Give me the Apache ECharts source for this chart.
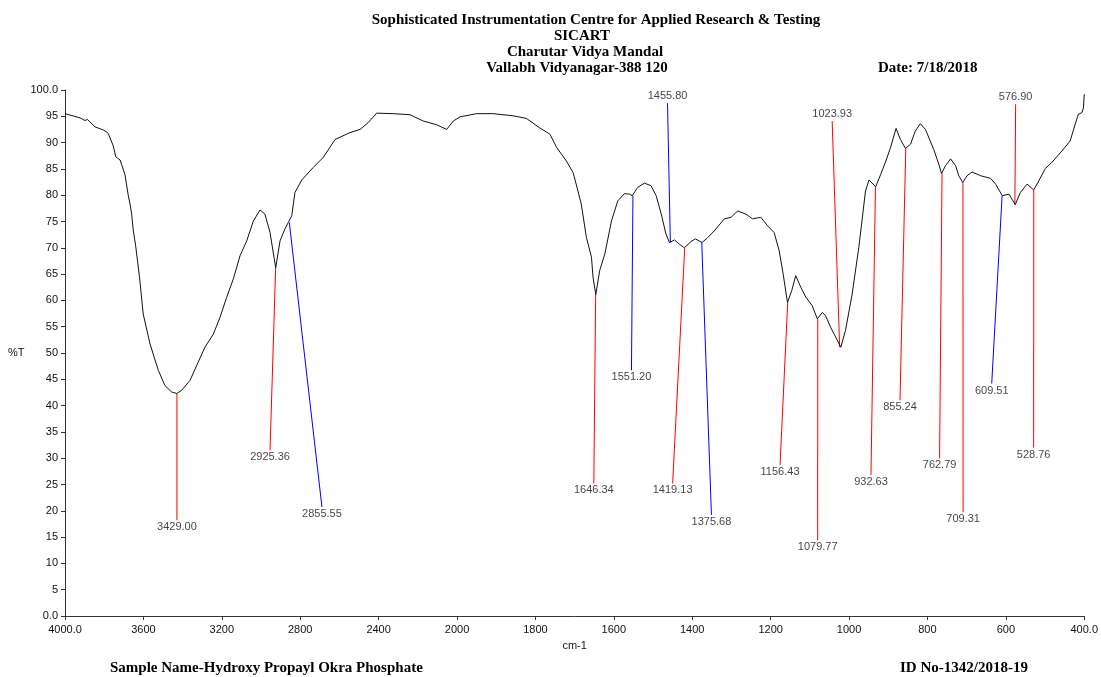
<!DOCTYPE html>
<html>
<head>
<meta charset="utf-8">
<script src="https://cdn.jsdelivr.net/npm/echarts@6/dist/echarts.min.js"></script>
<style>
  html, body { margin: 0; padding: 0; background: #fff; }
  #chart { width: 1101px; height: 677px; }
</style>
</head>
<body>
<div id="chart"></div>
<script>
// spectrum (cm-1 / %T)
const wavenumbers = [
  4000, 3923, 3898, 3886, 3847, 3805, 3791, 3779, 3754, 3741,
  3719, 3694, 3677, 3668, 3660, 3652, 3640, 3620, 3601, 3566,
  3524, 3490, 3456, 3430, 3405, 3362, 3320, 3286, 3243, 3209,
  3175, 3141, 3107, 3073, 3039, 3005, 2980, 2954, 2925, 2903,
  2878, 2861, 2843, 2827, 2792, 2733, 2682, 2622, 2546, 2495,
  2453, 2410, 2325, 2240, 2172, 2104, 2053, 2019, 1992, 1950,
  1908, 1857, 1823, 1789, 1763, 1746, 1721, 1704, 1696, 1683,
  1670, 1657, 1653, 1646, 1636, 1623, 1606, 1590, 1573, 1560,
  1553, 1539, 1522, 1505, 1492, 1479, 1467, 1458, 1445, 1433,
  1420, 1403, 1392, 1375, 1361, 1344, 1318, 1301, 1284, 1263,
  1246, 1225, 1208, 1191, 1178, 1168, 1157, 1146, 1136, 1123,
  1110, 1094, 1081, 1068, 1060, 1047, 1036, 1021, 1009, 992,
  975, 958, 949, 932, 919, 906, 894, 880, 869, 856,
  843, 831, 818, 805, 784, 771, 764, 754, 741, 728,
  720, 710, 699, 686, 664, 639, 626, 609, 592, 576,
  563, 546, 529, 516, 499, 483, 457, 436, 423, 415,
  406, 402, 400
];
const transmittance = [
  95.5, 94.7, 94.2, 94.4, 93.0, 92.4, 92.1, 91.7, 89.4, 87.3,
  86.7, 83.9, 79.9, 78.3, 76.4, 73.4, 70.5, 64.5, 57.4, 51.7,
  46.7, 43.8, 42.6, 42.3, 42.9, 44.8, 48.3, 51.1, 53.6, 56.8,
  60.6, 64.1, 68.5, 71.3, 75.1, 77.2, 76.4, 72.9, 66.2, 71.3,
  73.6, 74.8, 76.1, 80.5, 82.9, 85.3, 87.2, 90.6, 91.9, 92.5,
  93.8, 95.6, 95.5, 95.3, 94.1, 93.4, 92.5, 94.1, 94.9, 95.5,
  95.5, 95.1, 94.6, 92.8, 91.6, 89.1, 86.5, 84.3, 82.1, 78.3,
  72.0, 68.2, 64.4, 61.1, 65.7, 68.8, 75.1, 78.9, 80.3, 80.2,
  79.9, 81.5, 82.3, 81.8, 79.9, 76.4, 72.6, 71.0, 71.5, 70.7,
  70.0, 71.2, 71.7, 71.0, 71.9, 73.2, 75.5, 75.8, 77.0, 76.4,
  75.5, 75.8, 74.2, 72.9, 69.4, 65.0, 59.6, 61.9, 64.7, 62.5,
  60.6, 59.0, 56.5, 57.7, 57.1, 54.9, 53.3, 51.1, 54.3, 61.2,
  70.1, 80.8, 82.9, 81.6, 84.0, 86.5, 89.1, 92.7, 90.6, 88.9,
  89.7, 92.2, 93.6, 92.5, 88.7, 85.9, 84.1, 85.6, 86.9, 85.6,
  83.7, 82.4, 83.7, 84.4, 83.7, 83.2, 82.1, 79.9, 80.2, 78.2,
  80.5, 82.1, 81.0, 82.7, 85.1, 86.2, 88.4, 90.3, 93.5, 95.4,
  95.7, 96.6, 99.2
];

// picked peaks: label, %T at the peak, and where the leader line ends
const peakLabels = ['3429.00', '2925.36', '2855.55', '1646.34', '1551.20', '1455.80',
  '1419.13', '1375.68', '1156.43', '1079.77', '1023.93', '932.63', '855.24',
  '762.79', '709.31', '609.51', '576.90', '528.76'];
const peakT = [42.3, 66.2, 74.8, 61.1, 79.9, 71.0, 70.0, 71.0, 59.6, 56.5, 51.1,
  81.6, 88.9, 84.1, 82.4, 79.9, 78.2, 81.0];
const tagWn = [3429, 2954, 2689, 1651, 1555, 1463, 1450, 1351, 1176, 1080, 1043,
  944, 870, 769, 709, 636, 575, 529];
const tagT = [18.2, 31.5, 20.7, 25.2, 46.7, 97.5, 25.2, 19.2, 28.7, 14.4, 94.1,
  26.8, 41.0, 30.0, 19.7, 44.2, 97.3, 32.0];
const bluePeaks = ['2855.55', '1551.20', '1455.80', '1375.68', '609.51'];

// x tick values (cm-1)
const xTicks = [4000, 3600, 3200, 2800, 2400, 2000, 1800, 1600, 1400, 1200, 1000, 800, 600, 400];

// the instrument halves the scale above 2000 cm-1
function toAxis(wn) {
  return wn <= 2000 ? wn : 2000 + (wn - 2000) / 2;
}
function fromAxis(t) {
  return t <= 2000 ? t : 2000 + (t - 2000) * 2;
}

const spectrum = wavenumbers.map((w, i) => [toAxis(w), transmittance[i]]);

const labelFont = '"Liberation Sans", Arial, sans-serif';
const headFont = 'bold 15px "Liberation Serif", "Times New Roman", serif';

// one short line series per picked peak, peak -> tag
const leaderSeries = peakLabels.map((lbl, i) => ({
  type: 'line',
  data: [[toAxis(parseFloat(lbl)), peakT[i]], [toAxis(tagWn[i]), tagT[i]]],
  showSymbol: false,
  silent: true,
  lineStyle: { color: bluePeaks.includes(lbl) ? '#0000ff' : '#ff0000', width: 1 },
  z: 2,
}));

const tags = peakLabels.map((lbl, i) => ({
  value: [toAxis(tagWn[i]), tagT[i]],
  name: lbl,
  label: { position: tagT[i] > peakT[i] ? 'top' : 'bottom' },
}));

const chart = echarts.init(document.getElementById('chart'));
chart.setOption({
  animation: false,
  backgroundColor: '#fff',
  grid: { left: 65, right: 15, top: 90, bottom: 61 },
  xAxis: {
    type: 'value',
    inverse: true,
    min: toAxis(400),
    max: toAxis(4000),
    interval: 200,
    name: 'cm-1',
    nameLocation: 'middle',
    nameGap: 24,
    nameTextStyle: { color: '#111', fontSize: 11, fontFamily: labelFont },
    axisLine: { lineStyle: { color: '#333', width: 1 } },
    axisTick: { length: 4, lineStyle: { color: '#333' } },
    splitLine: { show: false },
    axisLabel: {
      color: '#111',
      fontSize: 11,
      fontFamily: labelFont,
      margin: 8,
      formatter: (t) => {
        const w = fromAxis(t);
        if (!xTicks.includes(w)) return '';
        return (w === 4000 || w === 400) ? w.toFixed(1) : String(w);
      },
    },
  },
  yAxis: {
    type: 'value',
    min: 0,
    max: 100,
    interval: 5,
    name: '%T',
    nameLocation: 'middle',
    nameRotate: 0,
    nameGap: 32,
    nameTextStyle: { color: '#111', fontSize: 11, fontFamily: labelFont, padding: [10, 0, 0, 0] },
    axisLine: { show: true, lineStyle: { color: '#333', width: 1 } },
    axisTick: { show: true, length: 4, lineStyle: { color: '#333' } },
    splitLine: { show: false },
    axisLabel: {
      color: '#111',
      fontSize: 11,
      fontFamily: labelFont,
      margin: 7,
      padding: [0, 0, 6, 0],
      formatter: (v) => (v === 0 || v === 100) ? v.toFixed(1) : String(v),
    },
  },
  series: [
    ...leaderSeries,
    {
      type: 'line',
      data: spectrum,
      showSymbol: false,
      smooth: false,
      lineStyle: { color: '#111', width: 1 },
      z: 3,
    },
    {
      type: 'scatter',
      data: tags,
      symbolSize: 1,
      itemStyle: { color: 'rgba(0,0,0,0)' },
      label: {
        show: true,
        formatter: '{b}',
        distance: 1,
        color: '#111',
        fontSize: 11,
        fontFamily: labelFont,
      },
      z: 4,
    },
  ],
  graphic: [
    { type: 'text', x: 596, y: 20, style: { text: 'Sophisticated Instrumentation Centre for Applied Research & Testing', font: headFont, fill: '#000', align: 'center', verticalAlign: 'middle' } },
    { type: 'text', x: 582, y: 36, style: { text: 'SICART', font: headFont, fill: '#000', align: 'center', verticalAlign: 'middle' } },
    { type: 'text', x: 585, y: 52, style: { text: 'Charutar Vidya Mandal', font: headFont, fill: '#000', align: 'center', verticalAlign: 'middle' } },
    { type: 'text', x: 577, y: 68, style: { text: 'Vallabh Vidyanagar-388 120', font: headFont, fill: '#000', align: 'center', verticalAlign: 'middle' } },
    { type: 'text', x: 878, y: 68, style: { text: 'Date: 7/18/2018', font: headFont, fill: '#000', align: 'left', verticalAlign: 'middle' } },
    { type: 'text', x: 110, y: 668, style: { text: 'Sample Name-Hydroxy Propayl Okra Phosphate', font: headFont, fill: '#000', align: 'left', verticalAlign: 'middle' } },
    { type: 'text', x: 900, y: 668, style: { text: 'ID No-1342/2018-19', font: headFont, fill: '#000', align: 'left', verticalAlign: 'middle' } },
  ],
});
</script>
</body>
</html>
